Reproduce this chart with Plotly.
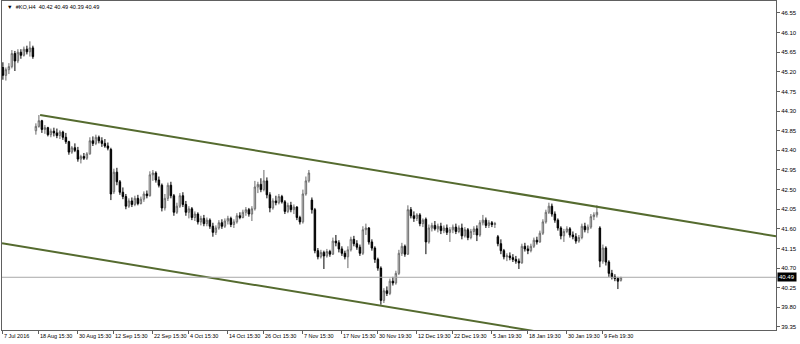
import plotly.graph_objects as go

# ---- data: #KO H4 candles (bar index order) ----
opens = [45.30,45.12,45.25,45.32,45.62,45.45,45.65,45.58,45.72,45.66,45.75,
 43.85,43.95,44.08,43.88,43.92,43.76,43.84,43.80,43.74,43.82,43.70,43.60,43.36,43.46,43.40,43.20,43.26,43.22,43.32,43.62,
 43.56,43.70,43.62,43.56,43.50,43.42,42.45,42.90,42.68,42.44,42.34,42.12,42.24,42.16,42.30,42.18,42.28,42.40,42.36,42.84,
 42.88,42.72,42.60,42.08,42.30,42.60,42.36,41.98,42.12,42.36,42.16,41.98,42.06,41.86,41.94,41.76,41.84,41.72,41.80,41.66,
 41.52,41.62,41.74,41.66,41.78,41.84,41.70,41.76,41.90,41.86,41.98,42.04,41.94,42.06,42.56,42.62,42.50,42.70,42.38,42.08,
 42.24,42.20,42.34,42.22,42.00,42.14,42.04,42.10,41.86,41.76,42.40,42.70,42.26,42.04,41.10,40.96,41.06,40.98,41.08,41.02,
 41.32,41.28,41.14,41.04,40.96,41.12,41.36,41.26,41.18,41.04,41.58,41.62,41.30,41.16,40.90,40.70,39.96,40.18,40.12,40.40,
 40.36,40.58,41.04,41.20,41.02,42.04,41.90,41.84,41.92,41.72,41.82,41.30,41.62,41.68,41.60,41.66,41.56,41.62,41.52,41.58,
 41.64,41.54,41.62,41.44,41.58,41.40,41.54,41.60,41.46,41.74,41.80,41.68,41.74,41.70,41.42,41.26,41.10,40.96,40.98,40.94,
 40.90,40.86,40.82,41.20,41.14,41.10,41.20,41.34,41.30,41.50,41.76,41.98,42.12,41.94,41.80,41.62,41.44,41.54,41.60,41.46,
 41.42,41.32,41.40,41.66,41.58,41.64,41.88,41.92,41.62,40.86,41.16,40.84,40.58,40.50,40.46,40.42]
highs = [45.42,45.30,45.40,45.70,45.68,45.72,45.72,45.78,45.80,45.90,45.80,
 44.02,44.21,44.10,43.98,43.94,43.90,43.92,43.90,43.86,43.85,43.80,43.62,43.50,43.56,43.48,43.30,43.34,43.36,43.70,43.72,
 43.76,43.74,43.70,43.66,43.58,43.46,42.98,43.00,42.72,42.55,42.40,42.30,42.32,42.36,42.38,42.34,42.46,42.48,42.92,42.95,
 42.92,42.80,42.64,42.40,42.66,42.68,42.40,42.20,42.42,42.44,42.24,42.12,42.10,42.00,41.98,41.90,41.92,41.86,41.84,41.74,
 41.68,41.80,41.82,41.84,41.90,41.88,41.82,41.96,41.98,42.04,42.10,42.08,42.12,42.70,42.68,42.76,42.95,42.78,42.44,42.30,
 42.36,42.40,42.38,42.26,42.20,42.22,42.16,42.12,41.90,42.50,42.80,42.95,42.32,42.08,41.16,41.12,41.10,41.14,41.12,41.40,
 41.46,41.34,41.20,41.10,41.20,41.42,41.44,41.34,41.24,41.66,41.72,41.64,41.36,41.20,40.94,40.74,40.24,40.28,40.46,40.50,
 40.64,41.12,41.28,41.24,42.14,42.10,42.00,41.96,41.96,41.84,41.86,41.70,41.74,41.78,41.72,41.74,41.68,41.70,41.64,41.70,
 41.72,41.68,41.72,41.64,41.62,41.60,41.66,41.68,41.80,41.92,41.86,41.80,41.78,41.76,41.46,41.36,41.14,41.04,41.06,41.02,
 40.98,40.92,41.26,41.28,41.22,41.26,41.40,41.42,41.56,41.82,42.04,42.20,42.18,42.00,41.84,41.66,41.60,41.66,41.64,41.54,
 41.50,41.46,41.72,41.74,41.70,41.94,41.98,42.14,41.66,41.24,41.20,40.88,40.66,40.56,40.50,40.49]
lows = [45.02,45.00,45.15,45.28,45.22,45.40,45.50,45.55,45.60,45.55,45.50,
 43.76,43.92,43.80,43.78,43.72,43.70,43.72,43.68,43.66,43.64,43.55,43.30,43.32,43.36,43.14,43.10,43.18,43.18,43.30,43.50,
 43.52,43.56,43.48,43.46,43.40,42.26,42.40,42.60,42.38,42.28,42.05,42.08,42.10,42.12,42.14,42.16,42.22,42.30,42.34,42.70,
 42.66,42.55,42.00,42.02,42.24,42.30,41.90,41.94,42.08,42.10,41.90,41.84,41.80,41.78,41.70,41.68,41.66,41.66,41.60,41.42,
 41.46,41.58,41.60,41.62,41.70,41.64,41.62,41.72,41.82,41.84,41.90,41.88,41.78,42.02,42.42,42.44,42.46,42.30,41.98,42.04,
 42.14,42.16,42.18,41.94,41.96,41.98,41.94,41.80,41.70,41.72,42.36,42.66,41.95,41.04,40.90,40.92,40.68,40.94,40.96,41.00,
 41.20,41.06,40.98,40.90,40.70,41.08,41.20,41.12,40.98,41.00,41.46,41.24,41.10,40.82,40.64,39.86,39.90,40.06,40.08,40.30,
 40.32,40.54,40.98,40.96,41.00,41.84,41.76,41.78,41.66,41.64,41.02,41.26,41.54,41.56,41.52,41.48,41.50,41.46,41.30,41.50,
 41.48,41.50,41.36,41.40,41.34,41.36,41.46,41.32,41.42,41.68,41.62,41.62,41.64,41.62,41.20,41.02,40.90,40.86,40.88,40.84,
 40.80,40.68,40.80,41.08,41.02,41.06,41.16,41.24,41.28,41.46,41.72,41.94,41.88,41.74,41.56,41.36,41.30,41.50,41.40,41.36,
 41.26,41.28,41.36,41.52,41.50,41.60,41.80,41.86,40.72,40.80,40.76,40.50,40.44,40.40,40.22,40.39]
closes = [45.12,45.25,45.32,45.62,45.45,45.65,45.58,45.72,45.66,45.75,45.55,
 43.95,44.08,43.88,43.92,43.76,43.84,43.80,43.74,43.82,43.70,43.60,43.36,43.46,43.40,43.20,43.26,43.22,43.32,43.62,43.56,
 43.70,43.62,43.56,43.50,43.45,42.40,42.90,42.68,42.44,42.34,42.12,42.24,42.16,42.30,42.18,42.28,42.40,42.36,42.84,42.88,
 42.72,42.60,42.08,42.30,42.60,42.36,41.98,42.12,42.36,42.16,41.98,42.06,41.86,41.94,41.76,41.84,41.72,41.80,41.66,41.52,
 41.62,41.74,41.66,41.78,41.84,41.70,41.76,41.90,41.86,41.98,42.04,41.94,42.06,42.56,42.62,42.50,42.70,42.38,42.08,42.24,
 42.20,42.34,42.22,42.00,42.14,42.04,42.10,41.86,41.76,42.40,42.70,42.88,42.04,41.10,40.96,41.06,40.98,41.08,41.02,41.32,
 41.28,41.14,41.04,40.96,41.12,41.36,41.26,41.18,41.04,41.58,41.62,41.30,41.16,40.90,40.70,39.96,40.18,40.12,40.40,40.36,
 40.58,41.04,41.20,41.02,42.04,41.90,41.84,41.92,41.72,41.80,41.30,41.62,41.68,41.60,41.66,41.56,41.62,41.52,41.58,41.64,
 41.54,41.62,41.44,41.58,41.40,41.54,41.60,41.46,41.74,41.80,41.68,41.74,41.70,41.72,41.26,41.10,40.96,40.98,40.94,40.90,
 40.86,40.82,41.20,41.14,41.10,41.20,41.34,41.30,41.50,41.76,41.98,42.12,41.94,41.80,41.62,41.44,41.54,41.60,41.46,41.42,
 41.32,41.40,41.66,41.58,41.64,41.88,41.92,41.98,40.86,41.16,40.84,40.58,40.50,40.46,40.40,40.49]

# date labels and the bar index they belong to
date_tick_bars = [0, 12, 25, 37, 50, 62, 75, 87, 100, 113, 125, 138, 150, 163, 175, 188, 200]
date_tick_text = ["7 Jul 2016", "18 Aug 15:30", "30 Aug 15:30", "12 Sep 15:30", "22 Sep 15:30",
                  "4 Oct 15:30", "14 Oct 15:30", "26 Oct 15:30", "7 Nov 15:30", "17 Nov 15:30",
                  "30 Nov 19:30", "12 Dec 19:30", "22 Dec 19:30", "5 Jan 19:30", "18 Jan 19:30",
                  "30 Jan 19:30", "9 Feb 19:30"]
price_ticks = [39.35, 39.80, 40.25, 40.70, 41.15, 41.60, 42.05, 42.50, 42.95, 43.40,
               43.85, 44.30, 44.75, 45.20, 45.65, 46.10, 46.55]

# channel lines (bar index, price)
upper_x = [12.4, 257.7]
upper_y = [44.21, 41.43]
lower_x = [-0.3, 190.0]
lower_y = [41.27, 39.11]

last_price = 40.49
header = "#KO,H4  40.42 40.49 40.39 40.49"

bars = list(range(len(closes)))

fig = go.Figure()
fig.add_trace(go.Candlestick(
    x=bars, open=opens, high=highs, low=lows, close=closes,
    increasing=dict(line=dict(color="#6a6a6a", width=1), fillcolor="#ffffff"),
    decreasing=dict(line=dict(color="#000000", width=1), fillcolor="#000000"),
    whiskerwidth=0, showlegend=False, hoverinfo="skip"))

fig.add_trace(go.Scatter(x=upper_x, y=upper_y, mode="lines",
                         line=dict(color="#556B2F", width=2), showlegend=False, hoverinfo="skip"))
fig.add_trace(go.Scatter(x=lower_x, y=lower_y, mode="lines",
                         line=dict(color="#556B2F", width=2), showlegend=False, hoverinfo="skip"))

fig.add_hline(y=last_price, line=dict(color="#a8a8a8", width=1))

font_family = "Liberation Sans, Arial, sans-serif"
fig.add_annotation(xref="paper", yref="y", x=1.0, y=last_price, xanchor="left", yanchor="middle",
                   text=f"{last_price:.2f}", showarrow=False, bgcolor="#000000",
                   font=dict(color="#ffffff", size=6, family=font_family), borderpad=1, xshift=1)
fig.add_annotation(xref="paper", yref="paper", x=0.0, y=1.0, xanchor="left", yanchor="top",
                   text="▼  " + header, showarrow=False,
                   font=dict(color="#000000", size=5.6, family=font_family), xshift=3, yshift=-1)

fig.update_layout(
    width=800, height=344,
    margin=dict(l=2, r=24, t=1, b=14, autoexpand=False),
    paper_bgcolor="#ffffff", plot_bgcolor="#ffffff",
    font=dict(family=font_family, size=5.7, color="#000000"),
    showlegend=False, hovermode=False,
    xaxis=dict(range=[-0.3, 257.7], rangeslider=dict(visible=False), showgrid=False, zeroline=False,
               tickmode="array", tickvals=date_tick_bars, ticktext=date_tick_text,
               ticks="outside", ticklen=3, tickcolor="#606060", ticklabelposition="outside right",
               tickangle=0, automargin=False,
               showline=True, linecolor="#606060", linewidth=1, mirror=True,
               tickfont=dict(size=5.5, family=font_family)),
    yaxis=dict(range=[39.281, 46.825], side="right", showgrid=False, zeroline=False,
               tickmode="array", tickvals=price_ticks, ticktext=[f"{v:.2f}" for v in price_ticks],
               ticks="outside", ticklen=3, tickcolor="#606060", automargin=False,
               showline=True, linecolor="#606060", linewidth=1, mirror=True,
               tickfont=dict(size=6, family=font_family)),
)

fig.write_html("out.html")
